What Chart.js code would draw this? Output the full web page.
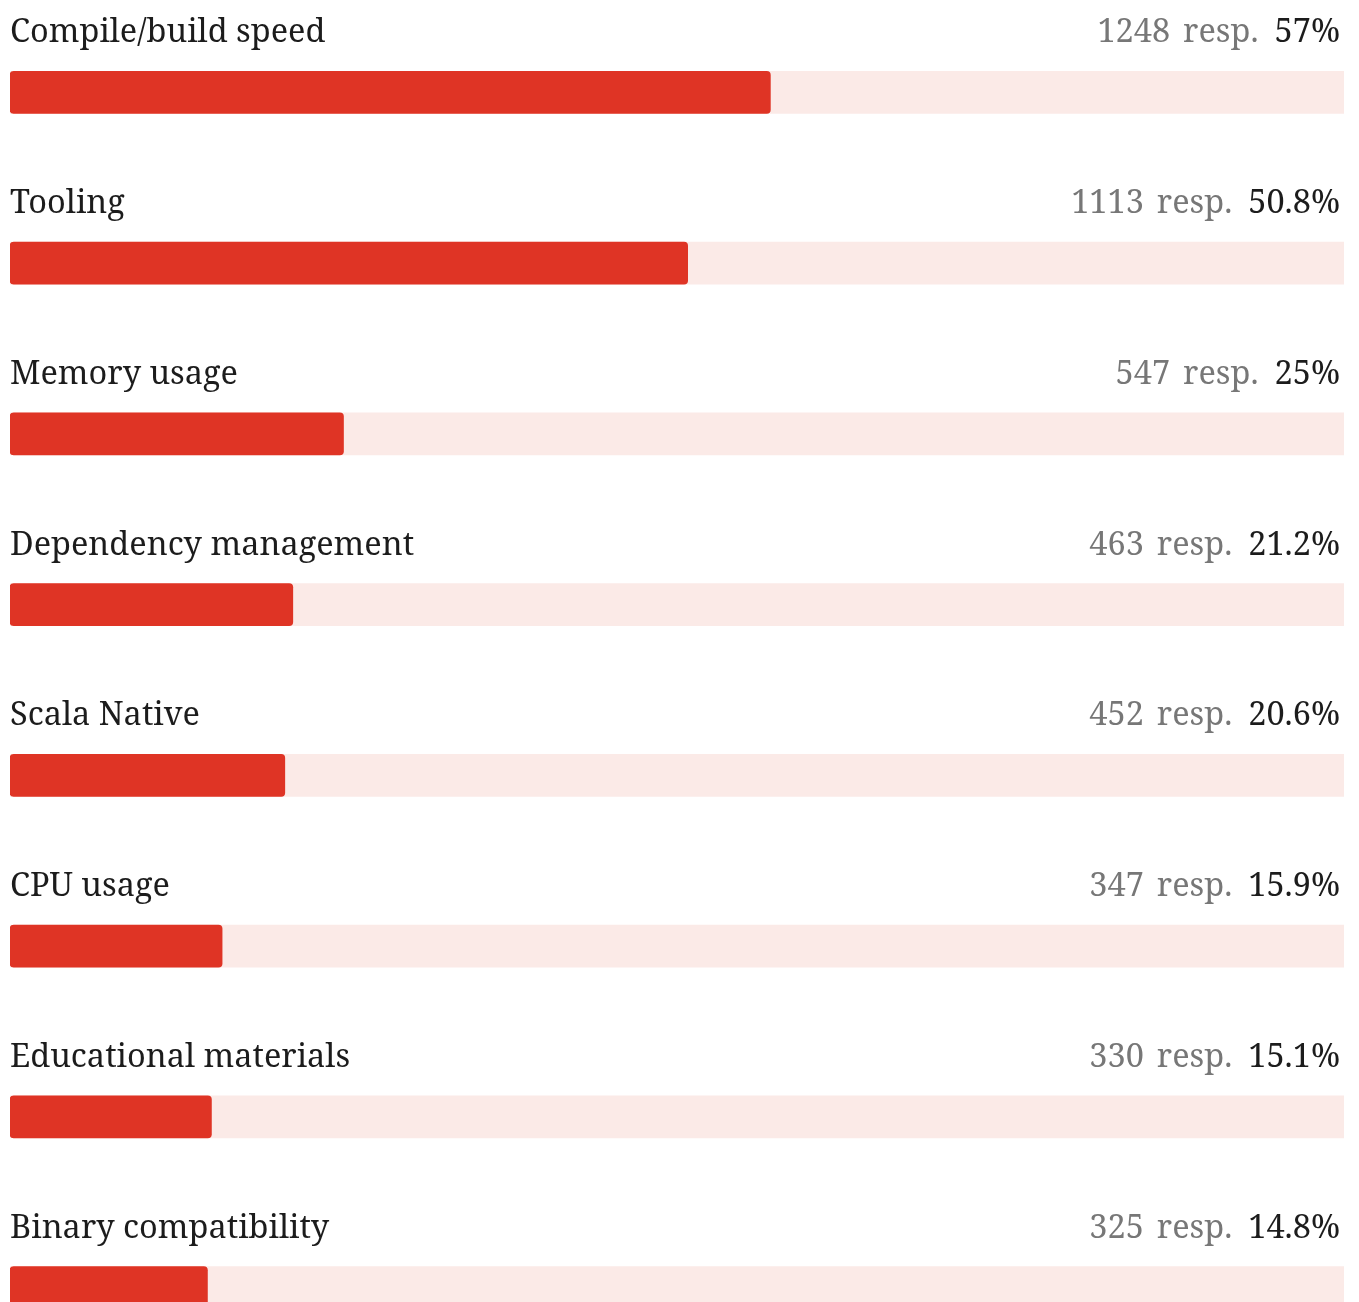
<!DOCTYPE html>
<html>
<head>
<meta charset="utf-8">
<script src="https://cdn.jsdelivr.net/npm/chart.js@4/dist/chart.umd.min.js"></script>
<style>
  html, body { margin: 0; padding: 0; background: #ffffff; overflow: hidden; }
  #wrap { position: relative; width: 1359px; height: 1380px; }
</style>
</head>
<body>
<div id="wrap"><canvas id="chart"></canvas></div>
<script>
// Survey answers: share of respondents per area
const categories = [
  'Compile/build speed',
  'Tooling',
  'Memory usage',
  'Dependency management',
  'Scala Native',
  'CPU usage',
  'Educational materials',
  'Binary compatibility'
];
const responses = [1248, 1113, 547, 463, 452, 347, 330, 325];
const percents = [57, 50.8, 25, 21.2, 20.6, 15.9, 15.1, 14.8];
const scaleMax = 100;

const FONT = '"Noto Serif", "DejaVu Serif", serif';
const FONT_SIZE = 32.5;

// Text row above each bar: category on the left, counts on the right
const rowLabels = {
  id: 'rowLabels',
  afterDatasetsDraw(chart) {
    const ctx = chart.ctx;
    const area = chart.chartArea;
    const meta = chart.getDatasetMeta(1);
    ctx.save();
    ctx.font = FONT_SIZE + 'px ' + FONT;
    ctx.textBaseline = 'alphabetic';
    meta.data.forEach((bar, i) => {
      const top = bar.y - bar.height / 2;
      const baseY = top - 29;
      ctx.textAlign = 'left';
      ctx.fillStyle = '#1c1c1c';
      ctx.fillText(categories[i], area.left, baseY);

      const pct = percents[i] + '%';
      let x = area.right - 4;
      ctx.textAlign = 'right';
      ctx.fillStyle = '#1c1c1c';
      ctx.fillText(pct, x, baseY);
      x -= ctx.measureText(pct).width + 16;
      ctx.fillStyle = '#777777';
      ctx.fillText('resp.', x, baseY);
      x -= ctx.measureText('resp.').width + 13;
      ctx.fillText(String(responses[i]), x, baseY);
    });
    ctx.restore();
  }
};

new Chart(document.getElementById('chart'), {
  type: 'bar',
  data: {
    labels: categories,
    datasets: [
      {
        label: 'track',
        data: categories.map(() => scaleMax),
        backgroundColor: '#fbeae7',
        borderWidth: 0,
        borderRadius: 0,
        barThickness: 42,
        grouped: false,
        order: 2
      },
      {
        label: 'share',
        data: percents,
        backgroundColor: '#df3425',
        borderWidth: 0,
        borderRadius: 4,
        borderSkipped: false,
        barThickness: 42,
        grouped: false,
        order: 1
      }
    ]
  },
  options: {
    indexAxis: 'y',
    responsive: true,
    maintainAspectRatio: false,
    animation: false,
    layout: { padding: { left: 10, right: 15, top: 7, bottom: 7 } },
    scales: {
      x: { display: false, min: 0, max: scaleMax },
      y: { display: false }
    },
    plugins: {
      legend: { display: false },
      tooltip: { enabled: false }
    }
  },
  plugins: [rowLabels]
});
</script>
</body>
</html>
